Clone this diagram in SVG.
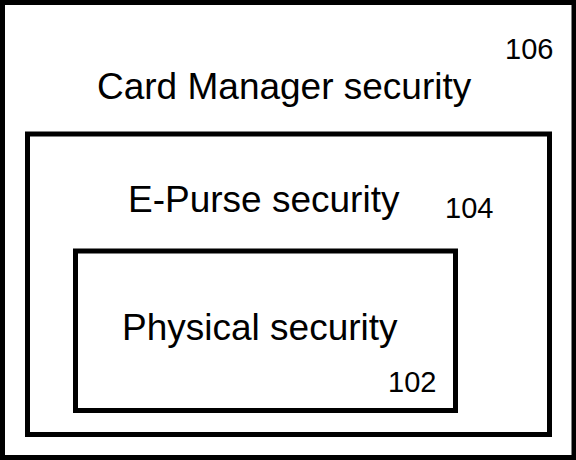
<svg xmlns="http://www.w3.org/2000/svg" width="576" height="460" viewBox="0 0 576 460">
<style>
.box{fill:none;stroke:#000;stroke-width:5}
.lbl{font-family:"Liberation Sans",Arial,sans-serif;font-size:37px;fill:#000}
.num{font-family:"Liberation Sans",Arial,sans-serif;font-size:29px;fill:#000}
</style>
<rect width="576" height="460" fill="#fff"/>
<g id="card-manager">
<rect class="box" x="2.5" y="2.5" width="571.5" height="455"/>
<text class="lbl" x="97" y="99">Card Manager security</text>
<text class="num" x="505" y="59">106</text>
</g>
<g id="e-purse">
<rect class="box" x="27.5" y="134" width="522" height="300.5"/>
<text class="lbl" x="128" y="212">E-Purse security</text>
<text class="num" x="445" y="218">104</text>
</g>
<g id="physical">
<rect class="box" x="75.5" y="251" width="380" height="159.5"/>
<text class="lbl" x="122" y="340">Physical security</text>
<text class="num" x="388" y="392">102</text>
</g>
<g id="connectors"/>
</svg>
